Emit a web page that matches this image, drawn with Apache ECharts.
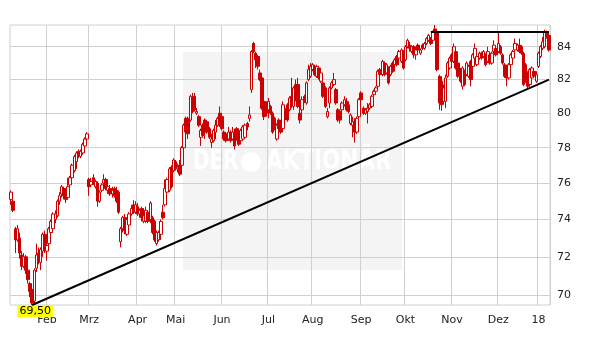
<!DOCTYPE html>
<html>
<head>
<meta charset="utf-8">
<script src="https://cdn.jsdelivr.net/npm/echarts@6/dist/echarts.min.js"></script>
<style>html,body{margin:0;padding:0;background:#fff}#c{width:611px;height:364px}</style>
</head>
<body>
<div id="c"></div>
<script>
// Trading calendar (categories)
const startDate = '2017-01-09';
const endDate = '2018-01-09';
const holidays = ['2017-04-14','2017-04-17','2017-05-01','2017-12-25','2017-12-26','2018-01-01'];
const monthNames = ['Jan','Feb','Mrz','Apr','Mai','Jun','Jul','Aug','Sep','Okt','Nov','Dez'];
const yTicks = [70,72,74,76,78,80,82,84];

// OHLC per month: [open, close, low, high]
const jan17 = [[75.1,75.5,74.8,75.6],[75.0,74.5,74.4,75.1],[73.5,72.9,72.2,73.6],[72.9,73.5,72.8,73.7],[73.0,72.2,71.9,73.3],[72.1,71.5,71.3,72.3],[71.5,72.0,71.4,72.2],[72.0,71.3,71.1,72.1],[71.3,70.8,70.6,71.4],[70.6,70.2,69.9,70.7],[70.3,69.6,69.5,70.4],[69.7,71.3,69.55,71.4],[71.4,72.1,71.2,72.7],[72.2,71.8,71.6,72.5],[71.7,72.4,71.3,72.5],[72.3,73.2,72.0,73.3],[73.2,72.4,72.2,73.4]];
const feb17 = [[72.3,72.6,71.8,72.7],[72.7,73.5,72.5,73.6],[73.3,73.9,73.1,74.0],[73.5,74.3,73.3,74.4],[74.0,74.3,73.8,74.5],[74.2,75.0,74.1,75.1],[75.0,75.3,74.8,75.5],[75.4,75.8,75.2,75.9],[75.7,75.3,75.1,75.8],[75.5,75.1,74.9,75.6],[75.2,75.8,75.1,76.3],[75.9,76.3,75.8,76.4],[76.3,77.0,76.2,77.1],[76.7,77.5,76.6,77.6],[77.2,77.7,76.8,77.8],[77.8,77.6,77.4,77.9],[77.5,77.8,77.4,77.9],[77.7,78.2,77.6,78.3],[78.1,78.5,78.0,78.6],[78.5,78.8,78.4,78.9]];
const mar17 = [[76.2,75.8,75.3,76.3],[75.9,76.1,75.8,76.3],[76.3,76.1,75.9,76.5],[75.8,76.1,75.7,76.2],[76.0,75.0,74.7,76.1],[75.0,75.5,74.9,75.6],[75.6,75.9,75.5,76.0],[76.0,76.2,75.9,76.5],[76.2,75.7,75.6,76.3],[75.6,75.8,75.4,76.0],[75.7,75.4,75.3,75.9],[75.4,75.6,75.2,75.8],[75.7,75.3,75.2,75.8],[75.6,75.0,74.9,75.8],[75.5,74.4,74.3,75.6],[72.8,73.5,72.5,73.6],[73.5,74.1,73.3,74.2],[74.1,73.4,73.2,74.3],[73.2,74.0,73.1,74.1],[73.7,74.3,73.6,74.4],[74.3,74.6,74.2,74.8],[74.8,74.4,74.3,75.05],[74.4,74.8,74.3,75.0]];
const apr17 = [[74.7,74.3,74.2,74.9],[74.3,74.5,74.1,74.6],[74.6,74.1,73.9,74.7],[73.9,74.2,73.8,74.3],[73.9,74.5,73.8,74.7],[74.4,73.9,73.8,74.5],[74.0,74.9,73.8,75.0],[74.1,73.3,73.2,74.2],[73.9,72.9,72.8,74.0],[72.7,73.3,72.6,73.4],[72.9,73.3,72.8,73.4],[73.2,73.9,72.9,74.0],[74.4,74.1,74.0,74.8],[74.8,75.7,74.7,76.2],[75.5,76.2,75.4,76.3],[75.6,76.8,75.5,76.9],[76.9,75.8,75.7,77.0],[76.7,77.3,76.6,77.4]];
const may17 = [[77.2,76.8,76.7,77.3],[76.8,76.9,76.6,77.1],[77.0,76.5,76.4,77.3],[77.0,78.0,76.9,78.1],[78.0,79.3,77.9,79.4],[79.7,78.9,78.8,79.8],[79.7,78.8,78.5,79.8],[79.6,81.0,79.5,81.1],[80.8,80.1,80.0,81.2],[81.0,80.2,80.1,81.2],[80.0,80.1,79.9,80.3],[79.8,79.3,79.2,79.9],[78.6,79.0,78.1,79.1],[79.3,78.7,78.6,79.4],[79.6,78.9,78.5,79.7],[79.5,78.9,78.8,79.6],[79.1,78.6,78.5,79.2],[78.3,78.5,78.0,78.8],[78.4,79.0,78.3,79.1],[78.9,79.3,78.5,79.6],[79.3,79.7,79.2,79.8],[80.0,79.3,79.2,80.4]];
const jun17 = [[79.8,79.1,79.0,79.9],[78.9,78.5,78.4,79.0],[78.8,78.4,78.3,78.9],[78.5,78.9,78.4,79.2],[78.9,78.4,78.3,79.0],[78.5,78.9,78.4,79.2],[78.9,78.1,77.9,79.1],[79.1,78.5,78.4,79.2],[78.8,78.2,78.1,78.9],[78.4,79.0,78.3,79.1],[78.5,79.2,78.4,79.3],[78.6,79.3,78.5,79.4],[79.4,79.2,79.0,79.5],[79.7,79.9,79.5,80.4],[81.4,83.7,81.2,83.8],[84.2,83.7,83.6,84.3],[83.6,83.2,82.7,83.7],[83.4,82.8,82.6,83.5],[82.4,82.0,81.9,82.6],[82.1,80.3,80.2,82.2],[80.7,79.8,79.6,80.8],[80.6,80.0,79.8,80.7]];
const jul17 = [[80.2,80.7,79.7,80.9],[80.4,80.0,79.9,80.5],[80.0,78.9,78.8,80.1],[79.7,79.1,79.0,79.8],[78.5,79.3,78.4,79.4],[79.6,79.1,79.0,79.7],[79.5,78.9,78.8,79.6],[79.1,80.5,79.0,80.7],[80.2,79.7,79.6,80.3],[80.5,79.6,79.5,80.6],[80.2,80.9,80.1,81.0],[81.0,80.5,80.3,82.1],[80.4,81.5,80.2,81.6],[81.7,80.9,80.7,82.0],[81.7,80.4,80.3,82.1],[80.0,79.6,79.4,80.5],[80.2,80.8,80.0,81.0],[81.0,80.7,80.6,81.1],[80.6,81.8,80.5,81.9],[82.0,82.6,81.9,82.9],[82.2,82.8,82.1,83.0]];
const aug17 = [[82.6,82.9,82.5,83.0],[82.8,82.3,82.2,82.9],[82.2,82.8,82.1,82.9],[82.7,82.1,82.0,82.8],[81.9,82.4,81.8,82.6],[81.8,81.0,80.9,81.9],[81.5,80.4,80.3,81.6],[79.8,80.1,79.7,80.3],[80.6,81.5,80.3,81.6],[81.5,81.8,81.4,81.9],[81.7,82.0,81.6,82.4],[81.4,80.6,80.5,81.5],[80.2,79.6,79.5,80.3],[80.1,79.6,79.4,80.2],[80.2,80.6,80.0,80.7],[80.5,80.8,80.4,81.0],[80.7,80.2,80.1,80.9],[80.5,80.1,80.0,80.7],[79.4,79.9,79.3,80.0],[79.3,79.5,78.6,79.8],[79.5,78.9,78.3,79.7],[78.9,79.7,78.8,79.8],[79.8,80.8,79.7,80.9]];
const sep17 = [[81.2,80.8,80.7,81.3],[80.3,80.0,79.9,80.4],[80.0,80.2,79.9,80.3],[80.1,80.3,79.4,80.6],[80.3,80.5,80.2,80.6],[80.4,81.0,80.3,81.1],[81.1,81.3,81.0,81.4],[81.3,81.5,81.2,81.6],[81.6,82.5,81.5,82.6],[82.6,82.3,82.2,82.7],[82.3,83.1,82.2,83.2],[83.0,82.3,82.2,83.1],[82.4,82.9,82.3,83.0],[82.7,81.8,81.7,82.8],[82.3,82.8,82.2,82.9],[83.0,82.5,82.4,83.1],[82.9,83.2,82.8,83.3],[83.4,82.9,82.8,83.5],[83.3,83.7,83.2,83.8],[83.1,83.8,83.0,83.9],[83.7,82.7,82.6,83.8]];
const oct17 = [[83.2,84.0,83.1,84.1],[84.0,84.4,83.9,84.5],[84.1,83.9,83.7,84.3],[83.7,84.0,83.6,84.1],[84.0,83.5,83.3,84.1],[83.5,83.8,83.2,83.9],[84.1,83.8,83.7,84.2],[83.6,83.8,83.5,83.9],[84.1,83.9,83.8,84.2],[83.9,84.2,83.8,84.3],[84.2,84.5,84.1,84.6],[84.4,84.7,84.3,84.8],[84.5,84.2,84.1,84.6],[84.4,84.9,84.3,85.0],[85.1,84.9,84.8,85.35],[84.9,82.6,82.5,85.0],[82.2,80.6,80.2,82.3],[81.9,80.5,80.15,82.2],[80.7,81.5,80.5,81.7],[80.7,82.1,80.3,82.3],[82.2,83.0,82.1,83.1],[82.7,83.3,82.6,83.4]];
const nov17 = [[83.5,83.1,83.0,83.6],[83.1,84.0,83.0,84.2],[83.7,82.7,82.6,83.8],[83.0,82.2,82.1,83.1],[82.6,81.9,81.8,82.7],[81.6,82.7,81.4,82.8],[82.5,81.7,81.6,82.6],[82.3,83.0,82.2,83.1],[82.2,82.8,82.1,82.9],[83.1,82.0,81.6,83.2],[82.8,83.5,82.7,83.6],[83.3,83.9,83.2,84.2],[82.9,83.4,82.8,83.5],[83.3,83.6,83.2,83.7],[83.6,83.3,83.2,83.7],[83.4,83.7,83.3,83.8],[83.5,82.9,82.8,83.6],[83.1,83.7,83.0,84.0],[83.5,83.0,82.9,83.6],[83.0,83.6,82.9,83.7],[83.7,84.1,83.6,84.4],[83.9,83.5,83.4,84.0]];
const dec17 = [[83.7,84.2,83.6,84.85],[84.0,83.6,83.5,84.1],[83.5,83.0,82.9,83.6],[82.9,82.2,82.1,83.0],[82.8,82.1,81.6,82.9],[82.1,82.9,82.0,83.0],[82.9,83.5,82.8,83.6],[83.3,83.7,83.2,83.8],[83.8,84.2,83.7,84.5],[83.8,84.1,83.7,84.2],[84.1,83.7,83.6,84.5],[84.0,83.6,83.5,84.1],[83.6,81.7,81.6,83.7],[82.9,81.9,81.8,83.0],[82.4,81.6,81.4,82.5],[81.7,82.6,81.6,82.7],[82.1,82.7,82.0,82.8],[82.5,82.2,82.1,82.6],[81.9,82.3,81.8,82.5]];
const jan18 = [[82.8,83.6,82.7,83.7],[83.4,84.0,83.3,84.1],[83.9,84.3,83.8,84.6],[84.0,84.9,83.9,85.05],[84.9,84.6,84.5,85.0],[84.7,83.8,83.7,84.8]];

// Annotations
const lowValue = 69.5;
const lowLabel = '69,50';
const trendEndValue = 82.0;
const resistanceValue = 84.9;

function buildDates(start, end, hol) {
  const out = [];
  const d = new Date(start + 'T00:00:00Z');
  const e = new Date(end + 'T00:00:00Z');
  while (d <= e) {
    const s = d.toISOString().slice(0, 10);
    const w = d.getUTCDay();
    if (w !== 0 && w !== 6 && hol.indexOf(s) < 0) out.push(s);
    d.setUTCDate(d.getUTCDate() + 1);
  }
  return out;
}
const dates = buildDates(startDate, endDate, holidays);
const ohlc = [].concat(jan17, feb17, mar17, apr17, may17, jun17, jul17, aug17, sep17, oct17, nov17, dec17, jan18);

let lowIdx = 0;
ohlc.forEach((r, i) => { if (r[2] < ohlc[lowIdx][2]) lowIdx = i; });
const resistStartIdx = 199;
const lastIdx = dates.length - 1;

const isMonthStart = (i) => i > 0 && dates[i].slice(0, 7) !== dates[i - 1].slice(0, 7);

const font = '"DejaVu Sans", Verdana, sans-serif';
const wmFont = 'bold 26px "DejaVu Sans Condensed", "DejaVu Sans", sans-serif';

const chart = echarts.init(document.getElementById('c'), null, {renderer: 'canvas'});
chart.setOption({
  animation: false,
  backgroundColor: '#fff',
  grid: {left: 10, top: 25, right: 61, bottom: 59, show: true, borderColor: '#d0d0d0', borderWidth: 1, backgroundColor: 'transparent'},
  graphic: [
    {type: 'rect', left: 183, top: 52, z: -10, shape: {width: 219, height: 218}, style: {fill: '#f4f4f4'}},
    {type: 'text', x: 193, y: 149, scaleX: 0.85, z: -9, style: {text: 'DER', fill: '#ffffff', font: wmFont}},
    {type: 'circle', z: -9, shape: {cx: 251, cy: 162, r: 10}, style: {fill: '#ffffff'}},
    {type: 'text', x: 266, y: 149, scaleX: 0.92, z: -9, style: {text: 'AKTIONÄR', fill: '#ffffff', font: wmFont}}
  ],
  xAxis: {
    type: 'category',
    data: dates,
    boundaryGap: true,
    axisLine: {show: false},
    axisTick: {show: false},
    splitLine: {show: true, interval: (i) => isMonthStart(i), lineStyle: {color: '#d0d0d0', width: 1}},
    axisLabel: {
      interval: (i) => isMonthStart(i),
      margin: 10,
      color: '#222',
      fontSize: 11,
      fontFamily: font,
      formatter: (v) => {
        const m = parseInt(v.slice(5, 7), 10);
        return m === 1 ? v.slice(2, 4) : monthNames[m - 1];
      }
    }
  },
  yAxis: {
    type: 'log',
    position: 'right',
    min: 69.5,
    max: 85.35,
    axisLine: {show: false},
    axisTick: {show: false},
    axisLabel: {show: false},
    splitLine: {show: false}
  },
  series: [
    {
      type: 'line',
      data: [],
      silent: true,
      markLine: {
        silent: true,
        z: 1,
        symbol: ['none', 'none'],
        lineStyle: {color: '#d0d0d0', width: 1, type: 'solid'},
        label: {show: true, position: 'end', distance: 7, color: '#222', fontSize: 11, fontFamily: font, formatter: (p) => String(p.value)},
        emphasis: {disabled: true},
        data: yTicks.map(v => ({yAxis: v}))
      }
    },
    {
      type: 'candlestick',
      data: ohlc,
      z: 3,
      barWidth: 3,
      itemStyle: {color: '#ffffff', color0: '#cc0000', borderColor: '#cc0000', borderColor0: '#cc0000', borderWidth: 1},
      markLine: {
        silent: true,
        z: 6,
        symbol: ['none', 'none'],
        lineStyle: {color: '#000', width: 2, type: 'solid'},
        label: {show: false},
        emphasis: {disabled: true},
        data: [
          [{coord: [dates[lowIdx], lowValue]}, {coord: [dates[lastIdx], trendEndValue]}],
          [{coord: [dates[resistStartIdx], resistanceValue]}, {coord: [dates[lastIdx], resistanceValue]}]
        ]
      },
      markPoint: {
        silent: true,
        symbol: 'rect',
        symbolSize: 0,
        data: [{coord: [dates[lowIdx], lowValue]}],
        label: {
          show: true, position: 'bottom', distance: 0, offset: [3, 0],
          formatter: lowLabel, color: '#000', fontSize: 11, fontFamily: font,
          backgroundColor: '#ffff00', padding: [1, 2, 0, 2]
        }
      }
    }
  ]
});
</script>
</body>
</html>
